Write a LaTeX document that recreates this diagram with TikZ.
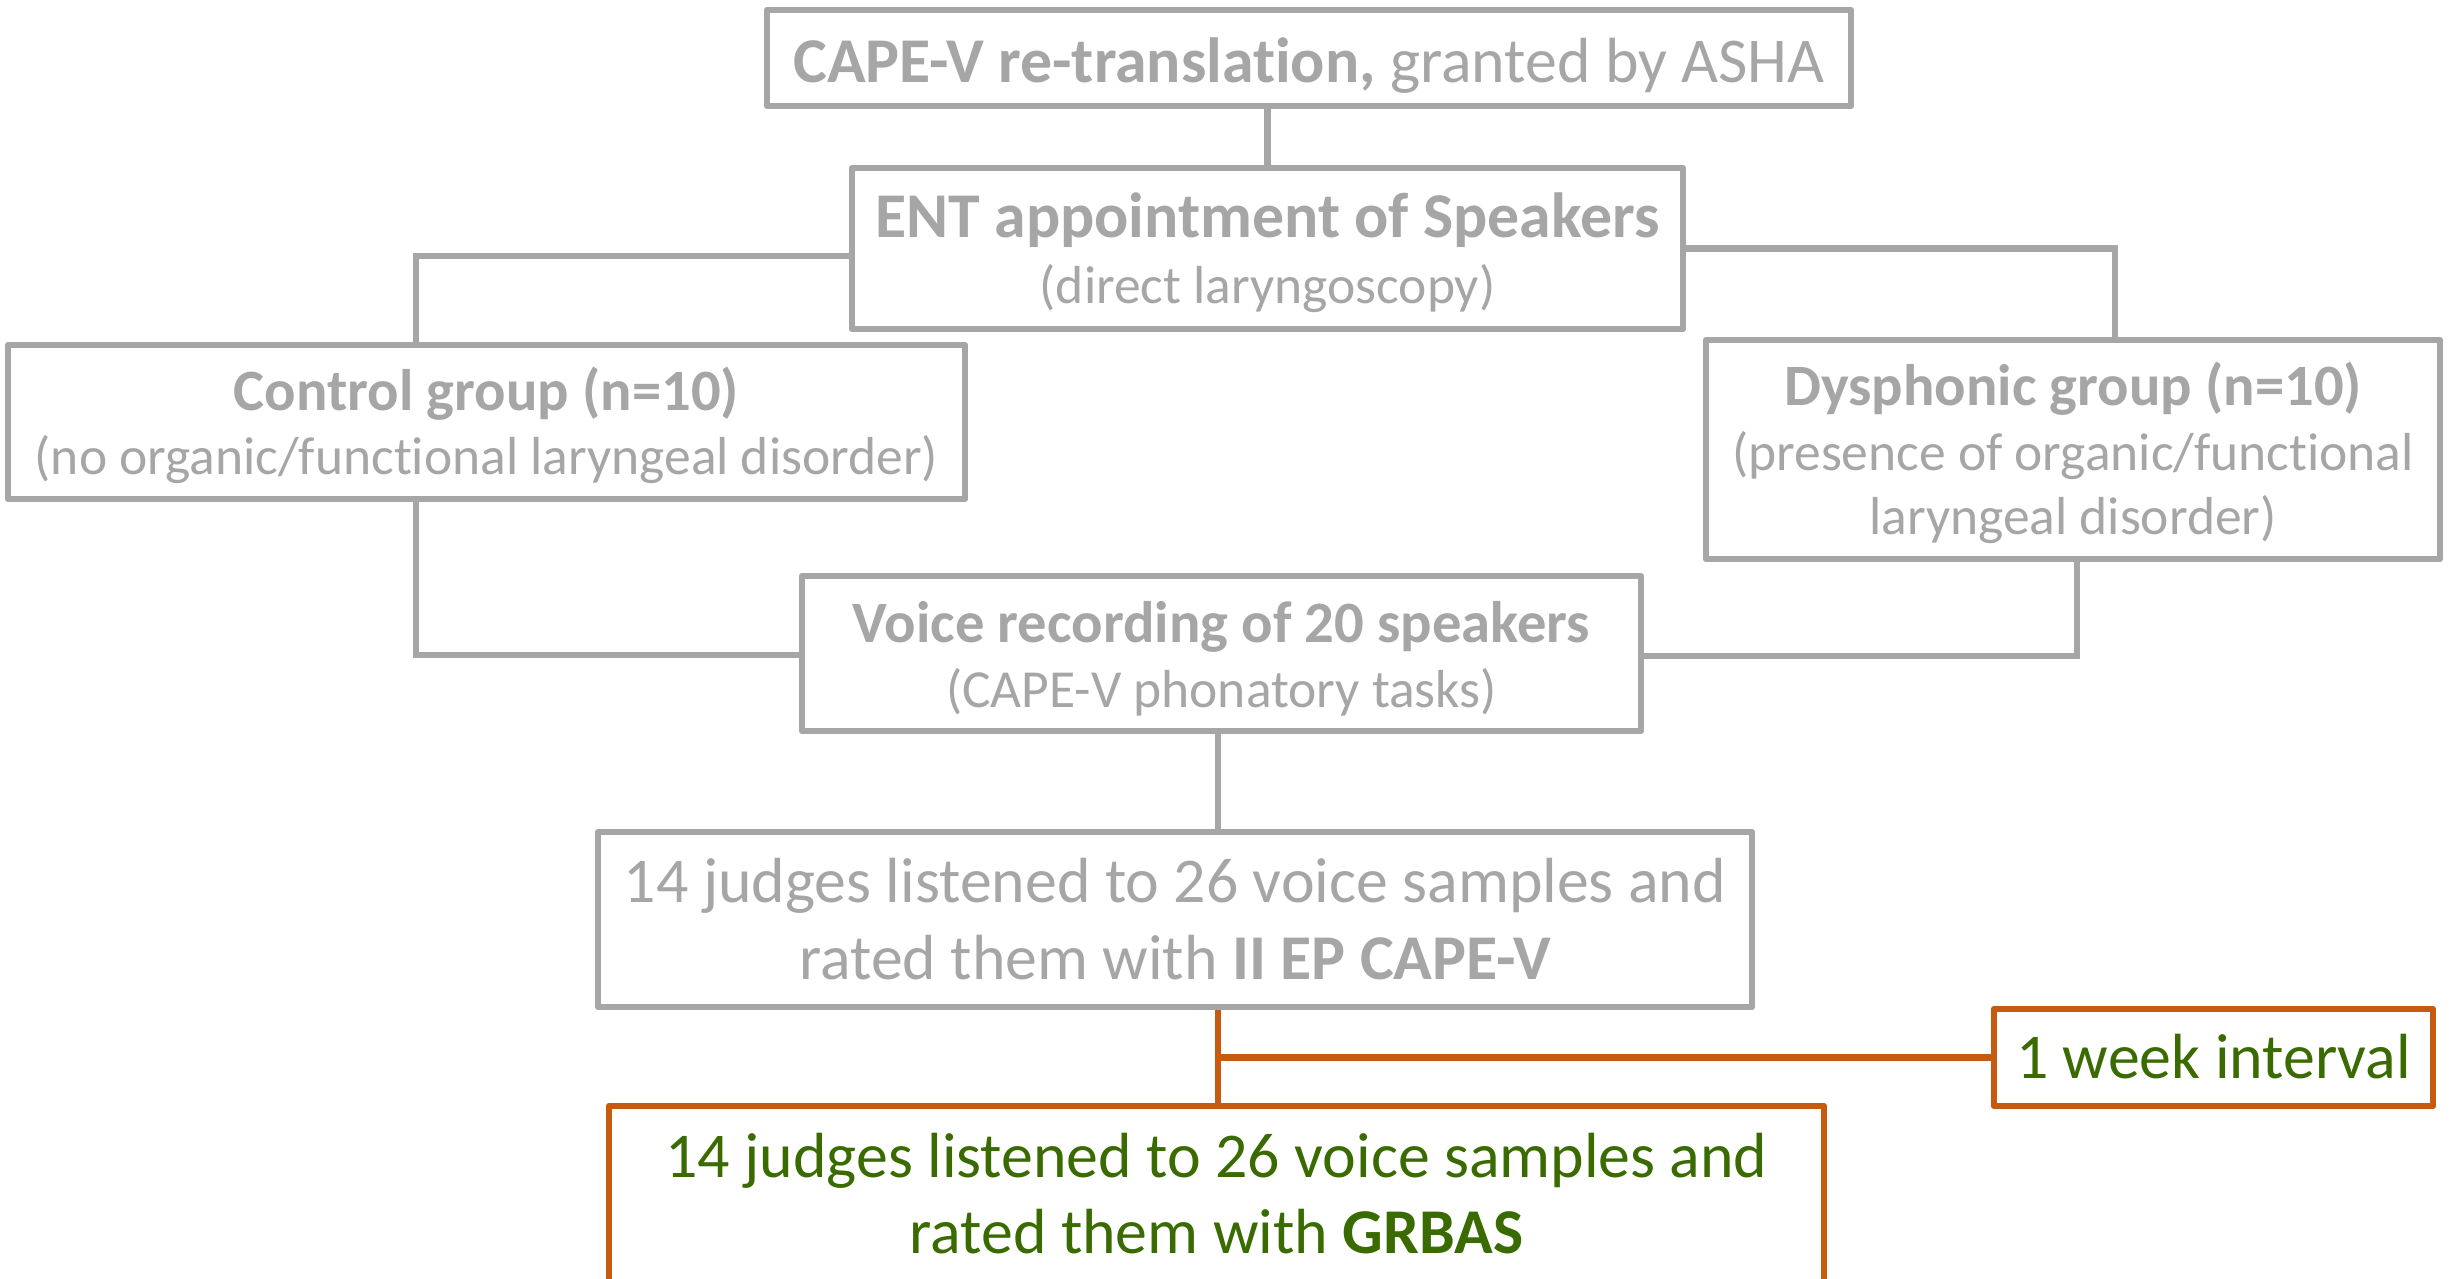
\documentclass[tikz,border=0pt]{standalone}
\usepackage{fontspec}
\setmainfont[Ligatures=NoCommon]{Carlito}
\definecolor{cgray}{HTML}{A6A6A6}
\definecolor{corange}{HTML}{C55A11}
\definecolor{cgreen}{HTML}{3A6B00}
\newcommand\fBig{\fontsize{63.8}{76}\selectfont}
\newcommand\fMid{\fontsize{58.6}{70}\selectfont}
\newcommand\fSub{\fontsize{53.5}{64}\selectfont}
\begin{document}
\begin{tikzpicture}[x=1pt,y=-1pt,
  gbox/.style={draw=cgray, line width=6.5pt, line join=round, rectangle, inner sep=0pt, fill=white},
  obox/.style={draw=corange, line width=6.5pt, line join=round, rectangle, inner sep=0pt, fill=white},
  gline/.style={draw=cgray, line width=6.5pt},
  oline/.style={draw=corange, line width=6.5pt},
  gtxt/.style={anchor=base, text=cgray, inner sep=0pt},
  otxt/.style={anchor=base, text=cgreen, inner sep=0pt}]
\useasboundingbox (0,0) rectangle (2461,1278);
\fill[white] (0,0) rectangle (2461,1278);

% boxes
\node[gbox, minimum width=1084pt, minimum height=96pt]  (top)    at (1309,58) {};
\node[gbox, minimum width=831pt,  minimum height=161pt] (ent)    at (1267.5,248.5) {};
\node[gbox, minimum width=957pt,  minimum height=154pt] (ctrl)   at (486.5,422) {};
\node[gbox, minimum width=734pt,  minimum height=219pt] (dys)    at (2073,449.5) {};
\node[gbox, minimum width=839pt,  minimum height=155pt] (voice)  at (1221.5,653.5) {};
\node[gbox, minimum width=1154pt, minimum height=175pt] (judges) at (1175,919.5) {};
\node[obox, minimum width=439pt,  minimum height=97pt]  (week)   at (2213.5,1057.5) {};
\node[obox, minimum width=1215pt, minimum height=184pt] (grbas)  at (1216.5,1198) {};

% connectors
\draw[gline] (ent.north) -- (ent.north |- top.south);
\draw[gline] ([yshift=-7.5pt]ent.west) -| ([xshift=-70.5pt]ctrl.north);
\draw[gline] (ent.east) -| ([xshift=42pt]dys.north);
\draw[gline] ([xshift=-70.5pt]ctrl.south) |- ([yshift=-1.5pt]voice.west);
\draw[gline] ([xshift=4pt]dys.south) |- ([yshift=-2.5pt]voice.east);
\draw[gline] ([xshift=-3.5pt]voice.south) -- ([xshift=-3.5pt]voice.south |- judges.north);
\coordinate (jn) at ([xshift=1.5pt]grbas.north |- week.west);
\draw[oline] ([xshift=1.5pt]grbas.north) -- ([xshift=1.5pt]grbas.north |- judges.south);
\draw[oline] (week.west) -- (jn);

% texts
\node[gtxt, font=\fBig] (t1) at (1309,82) {\textbf{CAPE-V re-translation,} granted by ASHA};
\node[gtxt, font=\fBig\bfseries] (t2a) at (1267.5,237) {ENT appointment of Speakers};
\node[gtxt, font=\fSub] (t2b) at (1267.5,303) {(direct laryngoscopy)};
\node[gtxt, font=\fMid\bfseries] (t3a) at (486.5,410) {Control group (n=10)};
\node[gtxt, font=\fSub] (t3b) at (486.5,474) {(no organic/functional laryngeal disorder)};
\node[gtxt, font=\fMid\bfseries] (t4a) at (2073,405) {Dysphonic group (n=10)};
\node[gtxt, font=\fSub] (t4b) at (2073,470) {(presence of organic/functional};
\node[gtxt, font=\fSub] (t4c) at (2073,534) {laryngeal disorder)};
\node[gtxt, font=\fMid\bfseries] (t5a) at (1221.5,642) {Voice recording of 20 speakers};
\node[gtxt, font=\fSub] (t5b) at (1221.5,707) {(CAPE-V phonatory tasks)};
\node[gtxt, font=\fBig] (t6a) at (1175,902) {14 judges listened to 26 voice samples and};
\node[gtxt, font=\fBig] (t6b) at (1175,979) {rated them with \textbf{II EP CAPE-V}};
\node[otxt, font=\fBig] (t7) at (2213.5,1078) {1 week interval};
\node[otxt, font=\fBig] (t8a) at (1216.5,1177) {14 judges listened to 26 voice samples and};
\node[otxt, font=\fBig] (t8b) at (1216.5,1253) {rated them with \textbf{GRBAS}};
\end{tikzpicture}
\end{document}
